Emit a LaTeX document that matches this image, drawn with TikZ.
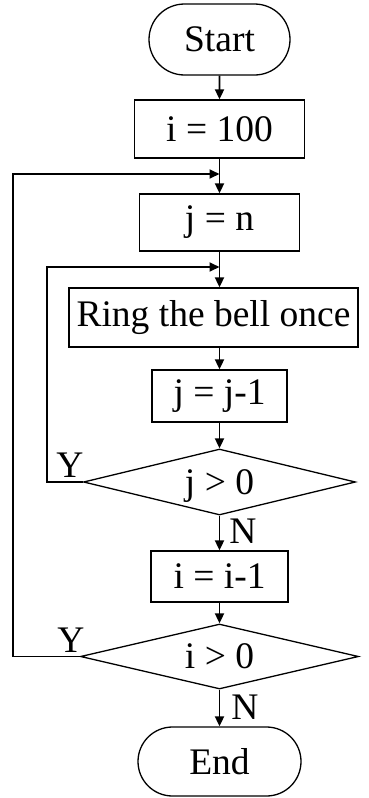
\documentclass[tikz,border=0pt]{standalone}
\usepackage{fontspec}
\setmainfont{Liberation Serif}
\usetikzlibrary{shapes.geometric,shapes.misc,arrows.meta}
\newcommand{\dectext}[1]{\raisebox{-0.33em}[0pt][0pt]{\makebox[0pt]{#1}}}
\begin{document}
\begin{tikzpicture}[x=1pt,y=-1pt,
  every node/.style={font=\fontsize{37.5}{40}\selectfont, inner sep=0pt},
  term/.style={draw, rounded rectangle, line width=1.3pt},
  proc/.style={draw, rectangle, line width=1.3pt},
  dec/.style={draw, diamond, shape aspect=4, line width=1.3pt},
  flow/.style={line width=1.8pt, -{Triangle[length=10pt,width=9pt]}},
  lbl/.style={font=\fontsize{37.5}{40}\selectfont}]
\useasboundingbox (0,0) rectangle (369,798);
\node[term, minimum width=141pt, minimum height=71pt] (start) at (219.5,39.5) {Start};
\node[proc, minimum width=170pt, minimum height=58pt] (i100) at (219.5,129) {i = 100};
\node[proc, minimum width=160pt, minimum height=57pt] (jn) at (219.5,222.5) {j = n};
\node[proc, minimum width=289pt, minimum height=59pt] (ring) at (213.5,317.5) {Ring the bell once};
\node[proc, minimum width=135pt, minimum height=52pt] (jj) at (219.5,396) {j = j-1};
\node[dec, minimum width=272pt, minimum height=66pt] (jgt) at (219.5,482) {\dectext{j > 0}};
\node[proc, minimum width=137pt, minimum height=51pt] (ii) at (219.5,576.5) {i = i-1};
\node[dec, minimum width=278pt, minimum height=65pt] (igt) at (219.5,656.5) {\dectext{i > 0}};
\node[term, minimum width=163pt, minimum height=69pt] (end) at (219.5,761.5) {End};
\coordinate (ijoin) at (219.5,174);
\coordinate (jjoin) at (219.5,267);
\draw[flow] (start) -- (i100);
\draw[flow] (i100) -- (jn);
\draw[flow] (jn) -- (ring.north -| jn.south);
\draw[flow] (ring.south -| jj.north) -- (jj);
\draw[flow] (jj) -- (jgt);
\draw[flow] (jgt) -- (ii);
\draw[flow] (ii) -- (igt);
\draw[flow] (igt) -- (end);
\draw[flow] (jgt.west) -- ++(-36,0) |- (jjoin);
\draw[flow] (igt.west) -- ++(-67,0) |- (ijoin);
\node[lbl] (y1) at (70,465) {Y};
\node[lbl] (y2) at (71,640) {Y};
\node[lbl] (n1) at (243,531) {N};
\node[lbl] (n2) at (245,707) {N};
\end{tikzpicture}
\end{document}
